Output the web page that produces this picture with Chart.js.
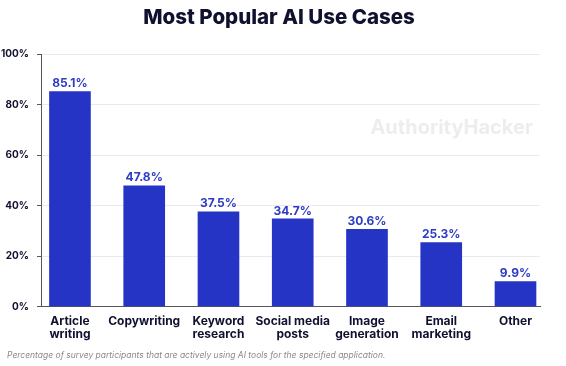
<!DOCTYPE html>
<html>
<head>
<meta charset="utf-8">
<script src="https://cdn.jsdelivr.net/npm/chart.js@4/dist/chart.umd.min.js"></script>
<style>
  html, body { margin: 0; padding: 0; background: #fff; }
  #wrap { width: 566px; height: 366px; position: relative; }
</style>
</head>
<body>
<div id="wrap"><canvas id="chart"></canvas></div>
<script>
// ---- данные ----
const categories = [
  ["Article", "writing"],
  ["Copywriting"],
  ["Keyword", "research"],
  ["Social media", "posts"],
  ["Image", "generation"],
  ["Email", "marketing"],
  ["Other"],
];
const shares = [85.1, 47.8, 37.5, 34.7, 30.6, 25.3, 9.9];
const yTicks = [0, 20, 40, 60, 80, 100];

const FONT = "Inter, 'Open Sans', sans-serif";
const NAVY = "#10112e";
const BLUE = "#2634c6";
const TITLE = "Most Popular AI Use Cases";
const NOTE = "Percentage of survey participants that are actively using AI tools for the specified application.";

// ось X линейная по индексам, чтобы повторить несимметричные поля
const points = shares.map((v, i) => ({ x: i, y: v }));

// подписи над столбцами
const valueLabels = {
  id: "valueLabels",
  afterDatasetsDraw(chart) {
    const ctx = chart.ctx;
    const meta = chart.getDatasetMeta(0);
    ctx.save();
    ctx.font = "bold 12px " + FONT;
    ctx.fillStyle = "#2d3cc4";
    ctx.textAlign = "center";
    ctx.textBaseline = "bottom";
    meta.data.forEach((bar, i) => {
      ctx.fillText(shares[i].toFixed(1) + "%", bar.x, bar.y - 2);
    });
    ctx.restore();
  },
};

// заголовок, сноска и водяной знак
const decor = {
  id: "decor",
  beforeDatasetsDraw(chart) {
    const ctx = chart.ctx;
    ctx.save();
    ctx.font = "bold 20px " + FONT;
    ctx.fillStyle = "#ededed";
    ctx.textAlign = "right";
    ctx.textBaseline = "middle";
    ctx.fillText("AuthorityHacker", 533, 128);
    ctx.restore();
  },
  afterDraw(chart) {
    const ctx = chart.ctx;
    ctx.save();
    ctx.textBaseline = "middle";
    ctx.textAlign = "center";
    ctx.fillStyle = NAVY;
    ctx.font = "800 20.5px " + FONT;
    ctx.fillText(TITLE, 279, 18);
    ctx.textAlign = "left";
    ctx.fillStyle = "#8a8a8a";
    ctx.font = "italic 8.5px " + FONT;
    ctx.fillText(NOTE, 7, 355);
    ctx.restore();
  },
};

new Chart(document.getElementById("chart"), {
  type: "bar",
  data: {
    datasets: [{
      data: points,
      backgroundColor: BLUE,
      borderWidth: 0,
      barThickness: 41,
    }],
  },
  options: {
    responsive: true,
    maintainAspectRatio: false,
    animation: false,
    devicePixelRatio: 1,
    layout: { padding: { left: 0, right: 26, top: 54, bottom: 25 } },
    plugins: {
      legend: { display: false },
      tooltip: { enabled: false },
    },
    scales: {
      x: {
        type: "linear",
        min: -0.39,
        max: 6.33,
        offset: false,
        afterBuildTicks(scale) {
          scale.ticks = categories.map((c, i) => ({ value: i }));
        },
        grid: { display: false },
        border: { display: true, color: "#55565e", width: 1 },
        ticks: {
          color: NAVY,
          font: { family: FONT, size: 12, weight: "bold", lineHeight: 1.1 },
          maxRotation: 0,
          autoSkip: false,
          padding: 0,
          callback: (v) => categories[v],
        },
      },
      y: {
        min: 0,
        max: 100,
        afterBuildTicks(scale) {
          scale.ticks = yTicks.map((v) => ({ value: v }));
        },
        afterFit(scale) { scale.width = 41; },
        grid: { color: "#e9e9ee", tickColor: "#55565e", tickLength: 4 },
        border: { display: true, color: "#55565e", width: 1 },
        ticks: {
          color: NAVY,
          font: { family: FONT, size: 10, weight: "bold" },
          padding: 8,
          callback: (v) => v + "%",
        },
      },
    },
  },
  plugins: [valueLabels, decor],
});
</script>
</body>
</html>
